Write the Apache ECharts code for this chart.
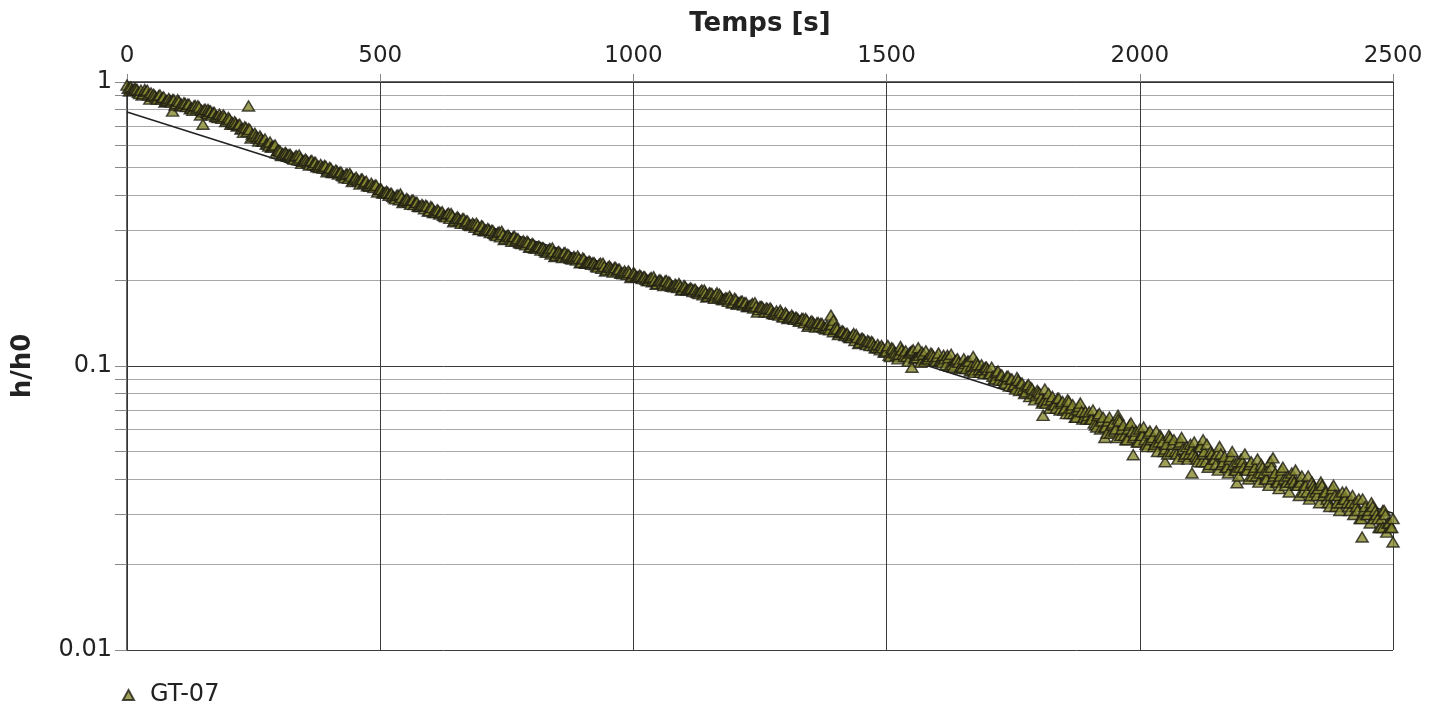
<!DOCTYPE html>
<html>
<head>
<meta charset="utf-8">
<script src="https://cdn.jsdelivr.net/npm/echarts@6/dist/echarts.min.js"></script>
<style>
html,body{margin:0;padding:0;background:#fff;}
#c{width:1447px;height:710px;}
</style>
</head>
<body>
<div id="c"></div>
<script>
// ---- data ----
const seriesName = 'GT-07';
const xTicks = [0, 500, 1000, 1500, 2000, 2500];
const yMajorTicks = [0.01, 0.1, 1];
const yAllTicks = [0.01,0.02,0.03,0.04,0.05,0.06,0.07,0.08,0.09,0.1,0.2,0.3,0.4,0.5,0.6,0.7,0.8,0.9,1];

// readings at t = 0, 10, 20 ... 2500 s
const evenStart = 0;
const evenStep = 10;
const evenValues = [
  0.975,0.94,0.94,0.90,0.935,0.89,0.87,0.88,0.855,0.865,
  0.865,0.825,0.835,0.795,0.825,0.785,0.775,0.78,0.75,0.765,
  0.75,0.71,0.705,0.665,0.685,0.645,0.62,0.62,0.595,0.595,
  0.575,0.555,0.555,0.535,0.553,0.528,0.51,0.52,0.50,0.508,
  0.50,0.48,0.48,0.46,0.476,0.456,0.437,0.444,0.429,0.434,
  0.421,0.406,0.405,0.388,0.403,0.383,0.371,0.376,0.364,0.368,
  0.364,0.347,0.347,0.335,0.344,0.331,0.318,0.324,0.312,0.318,
  0.312,0.30,0.30,0.288,0.298,0.286,0.275,0.281,0.27,0.275,
  0.27,0.26,0.261,0.252,0.26,0.251,0.241,0.247,0.238,0.244,
  0.24,0.231,0.231,0.223,0.23,0.223,0.214,0.219,0.211,0.216,
  0.213,0.206,0.206,0.2,0.206,0.2,0.192,0.198,0.19,0.195,
  0.192,0.186,0.186,0.18,0.185,0.181,0.173,0.179,0.172,0.176,
  0.173,0.167,0.167,0.163,0.167,0.162,0.155,0.16,0.152,0.157,
  0.154,0.148,0.148,0.144,0.147,0.143,0.137,0.141,0.135,0.14,
  0.137,0.132,0.13,0.126,0.129,0.125,0.119,0.122,0.116,0.118,
  0.113,0.116,0.109,0.114,0.108,0.113,0.107,0.112,0.106,0.11,
  0.108,0.103,0.109,0.101,0.106,0.099,0.104,0.097,0.101,0.097,
  0.097,0.092,0.096,0.089,0.092,0.085,0.089,0.083,0.086,0.08,
  0.081,0.075,0.08,0.073,0.077,0.07,0.075,0.068,0.072,0.066,
  0.069,0.063,0.068,0.061,0.066,0.059,0.064,0.057,0.062,0.057,
  0.06,0.055,0.059,0.053,0.057,0.051,0.056,0.05,0.054,0.049,
  0.053,0.048,0.052,0.046,0.05,0.045,0.049,0.044,0.048,0.043,
  0.047,0.043,0.046,0.041,0.045,0.04,0.044,0.039,0.043,0.039,
  0.042,0.038,0.041,0.036,0.039,0.035,0.038,0.034,0.037,0.033,
  0.036,0.033,0.035,0.031,0.034,0.03,0.032,0.029,0.031,0.028,0.029
];

// readings at t = 5, 15, 25 ... 2495 s
const oddStart = 5;
const oddStep = 10;
const oddValues = [
  0.93,0.95,0.91,0.94,0.87,0.895,0.90,0.85,0.86,0.83,
  0.825,0.84,0.805,0.825,0.765,0.80,0.79,0.755,0.755,0.725,
  0.71,0.715,0.683,0.69,0.635,0.645,0.632,0.604,0.59,0.563,
  0.551,0.559,0.545,0.55,0.517,0.528,0.529,0.503,0.503,0.483,
  0.48,0.484,0.469,0.474,0.446,0.453,0.454,0.431,0.431,0.41,
  0.406,0.408,0.396,0.40,0.376,0.384,0.384,0.365,0.366,0.351,
  0.347,0.352,0.339,0.345,0.322,0.331,0.33,0.315,0.315,0.302,
  0.299,0.302,0.293,0.296,0.279,0.285,0.286,0.272,0.272,0.262,
  0.26,0.263,0.255,0.259,0.243,0.25,0.251,0.24,0.24,0.231,
  0.23,0.232,0.227,0.23,0.216,0.222,0.222,0.212,0.213,0.205,
  0.206,0.207,0.202,0.205,0.194,0.199,0.2,0.191,0.192,0.185,
  0.185,0.187,0.182,0.185,0.175,0.18,0.181,0.172,0.173,0.167,
  0.165,0.169,0.162,0.166,0.155,0.161,0.159,0.153,0.153,0.149,
  0.147,0.149,0.146,0.147,0.138,0.142,0.142,0.137,0.136,0.132,
  0.129,0.132,0.127,0.13,0.12,0.124,0.122,0.118,0.116,0.112,
  0.109,0.112,0.11,0.108,0.111,0.106,0.109,0.104,0.108,0.105,
  0.104,0.106,0.1,0.104,0.098,0.102,0.096,0.1,0.095,0.099,
  0.094,0.09,0.093,0.087,0.09,0.083,0.087,0.081,0.084,0.079,
  0.077,0.074,0.076,0.071,0.074,0.068,0.071,0.066,0.069,0.065,
  0.065,0.061,0.064,0.058,0.062,0.056,0.06,0.055,0.059,0.054,
  0.057,0.052,0.056,0.05,0.054,0.049,0.053,0.047,0.051,0.047,
  0.049,0.046,0.049,0.044,0.047,0.043,0.046,0.042,0.045,0.041,
  0.044,0.04,0.043,0.039,0.042,0.038,0.041,0.037,0.04,0.036,
  0.039,0.035,0.038,0.034,0.037,0.033,0.036,0.032,0.035,0.031,
  0.034,0.031,0.033,0.029,0.032,0.028,0.031,0.027,0.03,0.027
];

// readings at t = 2.5, 7.5, 12.5 ... 1497.5 s
const headStart = 2.5;
const headStep = 5;
const headValues = [
  0.95,0.96,0.935,0.945,0.92,0.935,0.91,0.925,0.90,0.915,
  0.905,0.88,0.895,0.87,0.885,0.86,0.875,0.85,0.865,0.84,
  0.855,0.835,0.845,0.82,0.835,0.81,0.825,0.805,0.815,0.795,
  0.80,0.78,0.79,0.765,0.78,0.755,0.77,0.745,0.755,0.735,
  0.74,0.72,0.725,0.70,0.71,0.685,0.695,0.67,0.68,0.655,
  0.66,0.635,0.645,0.62,0.63,0.605,0.615,0.59,0.60,0.575,
  0.57,0.56,0.565,0.55,0.555,0.54,0.548,0.532,0.54,0.528,
  0.535,0.52,0.527,0.512,0.52,0.505,0.512,0.498,0.505,0.49,
  0.497,0.483,0.49,0.474,0.482,0.466,0.474,0.458,0.466,0.452,
  0.462,0.448,0.455,0.44,0.447,0.432,0.44,0.425,0.432,0.418,
  0.418,0.408,0.412,0.399,0.405,0.392,0.398,0.385,0.392,0.38,
  0.389,0.377,0.383,0.37,0.377,0.364,0.37,0.358,0.365,0.352,
  0.361,0.35,0.355,0.343,0.349,0.337,0.343,0.331,0.337,0.326,
  0.335,0.325,0.33,0.319,0.324,0.313,0.318,0.308,0.313,0.303,
  0.31,0.301,0.305,0.295,0.3,0.29,0.295,0.285,0.29,0.281,
  0.289,0.28,0.285,0.276,0.28,0.271,0.276,0.267,0.272,0.263,
  0.268,0.261,0.264,0.256,0.26,0.252,0.256,0.248,0.252,0.245,
  0.253,0.246,0.25,0.243,0.246,0.239,0.243,0.236,0.239,0.232,
  0.238,0.231,0.234,0.228,0.231,0.224,0.228,0.221,0.224,0.218,
  0.225,0.219,0.222,0.216,0.219,0.213,0.216,0.21,0.213,0.207,
  0.211,0.206,0.209,0.203,0.206,0.2,0.203,0.198,0.2,0.195,
  0.201,0.196,0.199,0.194,0.196,0.191,0.194,0.189,0.191,0.186,
  0.19,0.186,0.188,0.183,0.186,0.181,0.183,0.178,0.181,0.176,
  0.18,0.176,0.178,0.174,0.176,0.171,0.174,0.169,0.172,0.167,
  0.171,0.167,0.169,0.164,0.167,0.162,0.164,0.16,0.162,0.158,
  0.162,0.158,0.16,0.155,0.158,0.153,0.156,0.151,0.154,0.149,
  0.152,0.148,0.151,0.146,0.148,0.144,0.147,0.142,0.145,0.14,
  0.144,0.14,0.142,0.138,0.141,0.136,0.139,0.134,0.14,0.135,
  0.135,0.131,0.133,0.128,0.13,0.126,0.128,0.123,0.126,0.121,
  0.125,0.121,0.123,0.118,0.121,0.116,0.119,0.114,0.116,0.112
];

// readings at t = 1502.5, 1507.5 ... 2497.5 s
const tailStart = 1502.5;
const tailStep = 5;
const tailValues = [
  0.118,0.108,0.115,0.111,0.106,0.117,0.11,0.113,0.104,0.112,
  0.114,0.107,0.116,0.103,0.11,0.113,0.106,0.111,0.108,0.104,
  0.111,0.104,0.109,0.101,0.107,0.11,0.099,0.105,0.103,0.1,
  0.106,0.098,0.104,0.1,0.095,0.103,0.097,0.101,0.094,0.099,
  0.094,0.099,0.09,0.095,0.089,0.093,0.087,0.092,0.085,0.09,
  0.086,0.091,0.082,0.087,0.08,0.085,0.078,0.083,0.076,0.082,
  0.08,0.074,0.083,0.076,0.071,0.078,0.073,0.077,0.07,0.075,
  0.071,0.076,0.068,0.073,0.066,0.07,0.074,0.065,0.069,0.067,
  0.065,0.07,0.062,0.067,0.06,0.066,0.061,0.064,0.058,0.063,
  0.06,0.065,0.057,0.062,0.055,0.06,0.063,0.056,0.059,0.054,
  0.057,0.061,0.053,0.058,0.055,0.052,0.059,0.054,0.056,0.05,
  0.053,0.057,0.05,0.055,0.049,0.053,0.056,0.048,0.052,0.049,
  0.051,0.054,0.047,0.052,0.046,0.05,0.053,0.045,0.049,0.047,
  0.049,0.052,0.045,0.048,0.044,0.047,0.05,0.043,0.046,0.044,
  0.046,0.049,0.043,0.045,0.041,0.044,0.047,0.042,0.044,0.04,
  0.043,0.046,0.04,0.042,0.039,0.041,0.044,0.038,0.041,0.039,
  0.04,0.043,0.038,0.039,0.036,0.038,0.041,0.035,0.038,0.036,
  0.037,0.039,0.035,0.036,0.033,0.035,0.038,0.032,0.035,0.033,
  0.034,0.036,0.032,0.033,0.03,0.032,0.034,0.029,0.031,0.03,
  0.031,0.033,0.029,0.03,0.027,0.029,0.031,0.026,0.028,0.027
];

// isolated readings
const strayTimes  = [90, 150, 160, 240, 1390, 1395, 1550, 1671, 1809, 1931, 1957, 1987, 2050, 2103, 2125, 2192, 2263, 2439, 2500, 2480];
const strayValues = [0.79, 0.71, 0.80, 0.823, 0.151, 0.145, 0.099, 0.108, 0.067, 0.056, 0.067, 0.0487, 0.046, 0.042, 0.055, 0.0388, 0.0475, 0.025, 0.024, 0.027];

// fitted straight line (semi-log)
const fitTimes = [0, 2500];
const fitValues = [0.784, 0.0303];

// ---- build ----
const pts = [];
evenValues.forEach((v, i) => pts.push([evenStart + i * evenStep, v]));
oddValues.forEach((v, i) => pts.push([oddStart + i * oddStep, v]));
headValues.forEach((v, i) => pts.push([headStart + i * headStep, v]));
tailValues.forEach((v, i) => pts.push([tailStart + i * tailStep, v]));
strayTimes.forEach((t, i) => pts.push([t, strayValues[i]]));
pts.sort((a, b) => a[0] - b[0]);
const fitPts = fitTimes.map((t, i) => [t, fitValues[i]]);

const FONT = 'DejaVu Sans';
const TXT = '#222';
const minorColors = ['#3c3c3c','#a8a8a8','#a8a8a8','#a8a8a8','#a8a8a8','#a8a8a8','#a8a8a8','#a8a8a8','#a8a8a8'];

const chart = echarts.init(document.getElementById('c'), null, {renderer: 'canvas'});
chart.setOption({
  animation: false,
  backgroundColor: '#fff',
  textStyle: {fontFamily: FONT},
  grid: {left: 127, right: 54, top: 82, bottom: 60, containLabel: false},
  legend: {
    left: 122, top: 683, padding: 0, itemWidth: 11, itemHeight: 10, itemGap: 20,
    data: [{name: seriesName, icon: 'triangle'}],
    textStyle: {fontFamily: FONT, fontSize: 24, color: TXT, padding: [0, 0, 0, 11]}
  },
  xAxis: {
    type: 'value', position: 'top', min: 0, max: 2500, interval: 500,
    name: 'Temps [s]', nameLocation: 'middle', nameGap: 45,
    nameTextStyle: {fontFamily: FONT, fontSize: 26, fontWeight: 'bold', color: TXT},
    axisLine: {show: true, lineStyle: {color: '#333', width: 1.5}},
    axisTick: {show: true, inside: false, length: 8, lineStyle: {color: '#888'}},
    axisLabel: {fontFamily: FONT, fontSize: 23, color: TXT, margin: 14,
      customValues: xTicks, formatter: v => String(v)},
    splitLine: {show: true, lineStyle: {color: '#3c3c3c', width: 1}}
  },
  yAxis: {
    type: 'log', logBase: 10, min: 0.01, max: 1,
    name: 'h/h0', nameLocation: 'middle', nameGap: 91,
    nameTextStyle: {fontFamily: FONT, fontSize: 26, fontWeight: 'bold', color: TXT},
    axisLine: {show: true, lineStyle: {color: '#333', width: 1.5}},
    axisTick: {show: true, inside: false, length: 12, customValues: yAllTicks, lineStyle: {color: '#888'}},
    axisLabel: {fontFamily: FONT, fontSize: 24, color: TXT, margin: 15,
      customValues: yMajorTicks, formatter: v => String(+v.toPrecision(3))},
    splitLine: {show: true, lineStyle: {color: minorColors, width: 1}}
  },
  series: [
    {
      type: 'line', name: 'fit', data: fitPts, showSymbol: false, symbol: 'none',
      lineStyle: {color: '#222', width: 1.6}, z: 1, silent: true
    },
    {
      type: 'scatter', name: seriesName, data: pts, symbol: 'triangle', symbolSize: [12, 10],
      itemStyle: {color: '#878a2f', borderColor: '#1f1e14', borderWidth: 1.5}, z: 2
    }
  ]
});
</script>
</body>
</html>
